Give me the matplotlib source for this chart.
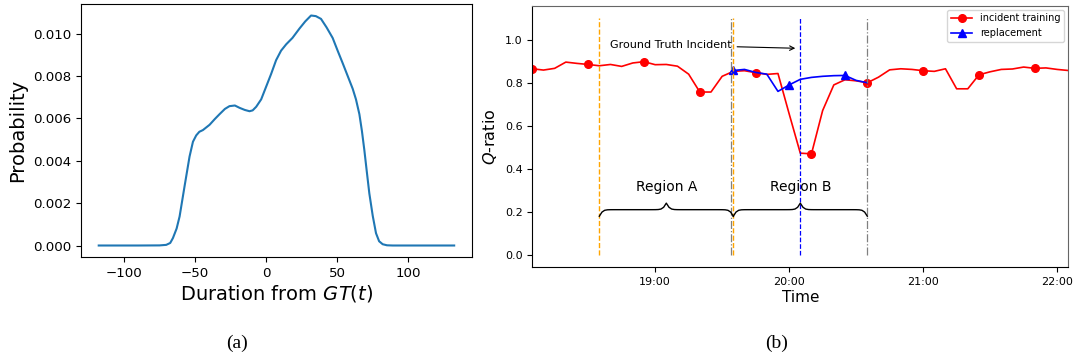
import numpy as np
import pandas as pd
import matplotlib
matplotlib.use('Agg')
import matplotlib.pyplot as plt
import matplotlib.dates as mdates

# ---- panel (a): density of duration from GT(t)
dur_x = [-117.8, -90, -75, -70.3, -67.5, -65.6, -63.0, -60.9, -57.4, -53.9, -51.5,
         -49.2, -47.0, -44.5, -39.8, -36.0, -32.8, -29.0, -25.8, -22.0, -18.7,
         -15.0, -11.7, -9.5, -7.0, -3.5, 0.0, 3.5, 7.0, 10.5, 14.1, 18.5, 23.4,
         27.5, 31.6, 35.0, 38.6, 42.5, 46.8, 50.3, 53.9, 57.4, 60.9, 63.2, 65.6,
         67.4, 69.1, 70.8, 72.6, 75.0, 77.3, 79.5, 82.0, 85.0, 89.0, 110, 132.3]
dur_p = [0.0, 0.0, 0.000005, 0.00003, 0.00012, 0.00035, 0.0008, 0.00137, 0.0028,
         0.0042, 0.0049, 0.0052, 0.00537, 0.00545, 0.0057, 0.00598, 0.0062,
         0.00645, 0.00658, 0.00661, 0.0065, 0.0064, 0.00634, 0.00638, 0.00655,
         0.0069, 0.0075, 0.0081, 0.00875, 0.0092, 0.0095, 0.0098, 0.01024,
         0.01058, 0.01086, 0.01083, 0.0107, 0.0103, 0.0098, 0.0092, 0.0086,
         0.0080, 0.0074, 0.0069, 0.0062, 0.0054, 0.0045, 0.0035, 0.00246,
         0.0014, 0.00058, 0.0002, 0.00006, 0.00001, 0.0, 0.0, 0.0]

# ---- panel (b): Q-ratio, 5 minute samples
times = pd.date_range('2019-01-01 18:05', '2019-01-01 22:05', freq='5min')
q_train = [0.865, 0.859, 0.867, 0.896, 0.890, 0.885, 0.879, 0.885, 0.876, 0.892,
           0.898, 0.884, 0.885, 0.877, 0.840, 0.757, 0.757, 0.830, 0.853, 0.856,
           0.847, 0.839, 0.843, 0.656, 0.473, 0.470, 0.671, 0.790, 0.814, 0.809,
           0.800, 0.826, 0.860, 0.865, 0.862, 0.856, 0.853, 0.865, 0.772, 0.772,
           0.837, 0.851, 0.862, 0.864, 0.873, 0.867, 0.869, 0.862, 0.857]
rep_times = pd.date_range('2019-01-01 19:35', '2019-01-01 20:35', freq='5min')
q_rep = [0.857, 0.862, 0.848, 0.840, 0.760, 0.790, 0.816, 0.825, 0.830, 0.833,
         0.834, 0.811, 0.800]

region_a = (pd.Timestamp('2019-01-01 18:35'), pd.Timestamp('2019-01-01 19:35'))
region_b = (pd.Timestamp('2019-01-01 19:35'), pd.Timestamp('2019-01-01 20:35'))
gray_marks = [pd.Timestamp('2019-01-01 19:34'), pd.Timestamp('2019-01-01 20:35')]
gt_time = pd.Timestamp('2019-01-01 20:05')


def draw_brace(ax, xspan, yy, text):
    xmin, xmax = xspan
    span = xmax - xmin
    ax_xmin, ax_xmax = ax.get_xlim()
    xax_span = ax_xmax - ax_xmin
    ymin, ymax = ax.get_ylim()
    yspan = ymax - ymin
    resolution = int(span / xax_span * 100) * 2 + 1
    beta = 300. / xax_span
    x = np.linspace(xmin, xmax, resolution)
    x_half = x[:int(resolution / 2) + 1]
    y_half = (1 / (1. + np.exp(-beta * (x_half - x_half[0])))
              + 1 / (1. + np.exp(-beta * (x_half - x_half[-1]))))
    y = np.concatenate((y_half, y_half[-2::-1]))
    y = yy + (.05 * y - .01) * yspan
    ax.plot(x, y, color='black', lw=1)
    ax.text((xmax + xmin) / 2., 0.318, text, ha='center', va='center', fontsize=10)


fig = plt.figure(figsize=(10.78, 3.6), dpi=100)

ax1 = fig.add_axes([0.0751, 0.2861, 0.3627, 0.7028])
ax1.plot(dur_x, dur_p, color='#1f77b4', lw=1.5)
ax1.set_xticks([-100, -50, 0, 50, 100])
ax1.set_yticks([0, 0.002, 0.004, 0.006, 0.008, 0.010])
ax1.yaxis.set_major_formatter(matplotlib.ticker.FormatStrFormatter('%.3f'))
ax1.tick_params(labelsize=9.6)
ax1.set_xlabel('Duration from $GT(t)$', fontsize=14, labelpad=2)
ax1.set_ylabel('Probability', fontsize=14)

ax2 = fig.add_axes([0.4938, 0.2575, 0.4972, 0.7267])
xt = mdates.date2num(times)
xr = mdates.date2num(rep_times)
ax2.plot(xt, q_train, color='red', marker='o', markevery=5, ms=5.5, lw=1.2,
         label='incident training')
ax2.plot(xr, q_rep, color='blue', marker='^', markevery=5, ms=5.5, lw=1.2,
         label='replacement')
ax2.vlines(mdates.date2num(list(region_a)), 0, 1.1, colors='#FFA500',
           linestyles='--', lw=1.0)
ax2.vlines(mdates.date2num(gray_marks), 0, 1.1, colors='gray',
           linestyles='-.', lw=0.9)
ax2.vlines(mdates.date2num(gt_time), 0, 1.1, colors='blue',
           linestyles='--', lw=0.9)
ax2.set_xlim(xt[0], xt[-1])
ax2.set_ylim(-0.057, 1.158)
ax2.xaxis.set_major_locator(mdates.HourLocator())
ax2.xaxis.set_major_formatter(mdates.DateFormatter('%H:%M'))
ax2.set_yticks([0.0, 0.2, 0.4, 0.6, 0.8, 1.0])
ax2.tick_params(labelsize=8)
ax2.set_xlabel('Time', fontsize=11, labelpad=2)
ax2.set_ylabel('$Q$-ratio', fontsize=11.5)
for s in ['top', 'right']:
    ax2.spines[s].set_color('#666666')

ax2.annotate('Ground Truth Incident',
             xy=(mdates.date2num(pd.Timestamp('2019-01-01 20:04')), 0.96),
             xytext=(mdates.date2num(pd.Timestamp('2019-01-01 19:07')), 0.975),
             ha='center', va='center', fontsize=8,
             arrowprops=dict(arrowstyle='->', color='black', lw=0.8))

draw_brace(ax2, mdates.date2num(list(region_a)), 0.162, 'Region A')
draw_brace(ax2, mdates.date2num(list(region_b)), 0.162, 'Region B')

ax2.legend(loc='upper right', fontsize=7, handlelength=2.2,
           borderaxespad=0.4)

fig.text(0.22, 0.045, '(a)', family='Liberation Serif', fontsize=14,
         ha='center', va='center')
fig.text(0.72, 0.045, '(b)', family='Liberation Serif', fontsize=14,
         ha='center', va='center')

fig.savefig('out.png', dpi=100)
